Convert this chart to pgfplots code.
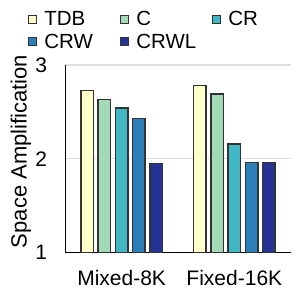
\documentclass[border=0pt]{standalone}
\usepackage{fontspec}
\setmainfont{Liberation Sans}
\usepackage{pgfplots}
\pgfplotsset{compat=1.18}
\definecolor{cTDB}{HTML}{FFFFCC}
\definecolor{cC}{HTML}{A1DAB4}
\definecolor{cCR}{HTML}{41B6C4}
\definecolor{cCRW}{HTML}{2C7FB8}
\definecolor{cCRWL}{HTML}{253494}
\newcommand{\F}{\fontsize{21bp}{25bp}\selectfont}
\newcommand{\FY}{\fontsize{22bp}{26bp}\selectfont}
\newcommand{\FL}{\fontsize{20.5bp}{24bp}\selectfont}
\pgfplotsset{
  sq legend/.style={legend image code/.code={\draw[##1,/tikz/.cd,line width=1bp,draw=black!80] (0bp,-4bp) rectangle (8bp,4bp);}},
  mybar/.style={ybar, bar width=12.5bp, draw=black!80, line width=1.5bp, sq legend},
}
\begin{document}
\begin{tikzpicture}
\begin{axis}[
  at={(0,0)}, anchor=south west,
  scale only axis, width=225.4bp, height=187.7bp,
  xmin=-0.5, xmax=1.5, ymin=1, ymax=3,
  axis x line*=bottom, axis y line*=left,
  axis line style={black, line width=1bp, -},
  ytick={1,2,3}, xtick={0,1}, xticklabels={Mixed-8K,Fixed-16K},
  major tick length=0pt,
  ymajorgrids, grid style={draw=black!13, line width=1.2bp},
  /pgf/number format/assume math mode=true,
  tick label style={font=\F},
  xticklabel style={anchor=north, inner sep=0pt, yshift=-17.8bp},
  yticklabel style={anchor=east, inner sep=0pt, xshift=-18bp},
  ylabel={Space Amplification},
  every axis y label/.style={at={(axis description cs:0,0.539)}, xshift=-38.6bp, rotate=90, anchor=base, font=\FY},
  legend columns=3,
  legend style={draw=none, fill=none, inner sep=0pt, outer sep=0pt,
    at={(axis description cs:0,1)}, anchor=north west, xshift=-37bp, yshift=54.6bp,
    font=\FL, row sep=4.7bp, nodes={inner ysep=1bp, inner xsep=7bp},
    /tikz/every even column/.append style={column sep=0pt}},
]
\addplot[mybar, bar shift=-34.6bp, fill=cTDB] coordinates {(0,2.73) (1,2.78)};
\addlegendentry{\makebox[69bp][l]{TDB}}
\addplot[mybar, bar shift=-17.3bp, fill=cC] coordinates {(0,2.63) (1,2.69)};
\addlegendentry{\makebox[69bp][l]{C}}
\addplot[mybar, bar shift=0bp, fill=cCR] coordinates {(0,2.54) (1,2.16)};
\addlegendentry{\makebox[69bp][l]{CR}}
\addplot[mybar, bar shift=17.3bp, fill=cCRW] coordinates {(0,2.43) (1,1.96)};
\addlegendentry{\makebox[69bp][l]{CRW}}
\addplot[mybar, bar shift=34.6bp, fill=cCRWL] coordinates {(0,1.95) (1,1.96)};
\addlegendentry{\makebox[69bp][l]{CRWL}}
\end{axis}
\pgfresetboundingbox
\path[use as bounding box] (-65.3bp,-43.3bp) rectangle (233.7bp,252.7bp);
\end{tikzpicture}
\end{document}
